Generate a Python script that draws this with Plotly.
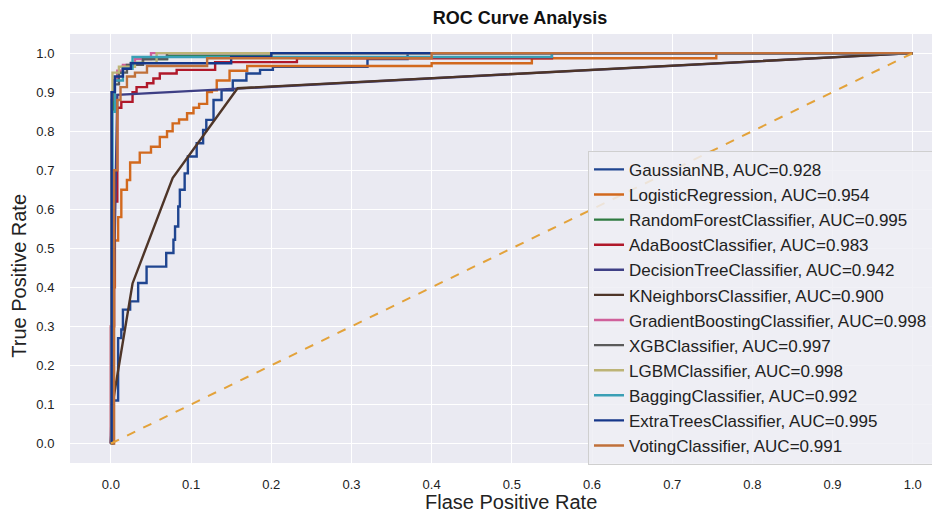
import plotly.graph_objects as go

names = ["GaussianNB", "LogisticRegression", "RandomForestClassifier", "AdaBoostClassifier",
         "DecisionTreeClassifier", "KNeighborsClassifier", "GradientBoostingClassifier",
         "XGBClassifier", "LGBMClassifier", "BaggingClassifier", "ExtraTreesClassifier",
         "VotingClassifier"]
aucs = [0.928, 0.954, 0.995, 0.983, 0.942, 0.900, 0.998, 0.997, 0.998, 0.992, 0.995, 0.991]
colors = ["#1f4590", "#d2691e", "#2e7a40", "#b0182a", "#3e3f85", "#4e3528",
          "#d0609a", "#5a5a5a", "#bdb476", "#3a9fb5", "#16378a", "#c0703a"]

# ROC points (fpr, tpr)
fpr_gnb = [0, 0.003, 0.009, 0.013, 0.015, 0.024, 0.034, 0.0445, 0.069, 0.078, 0.08, 0.084, 0.086,
           0.092, 0.096, 0.107, 0.115, 0.119, 0.128, 0.138, 0.152, 0.169, 0.186, 0.202, 0.32, 0.37, 1.0]
tpr_gnb = [0, 0.11, 0.27, 0.292, 0.343, 0.364, 0.411, 0.453, 0.488, 0.522, 0.556, 0.607, 0.65,
           0.692, 0.735, 0.769, 0.803, 0.829, 0.88, 0.905, 0.93, 0.948, 0.957, 0.965, 0.985, 1.0, 1.0]

fpr_lr = [0, 0.002, 0.005, 0.009, 0.013, 0.02, 0.024, 0.036, 0.05, 0.061, 0.07, 0.077, 0.085,
          0.095, 0.103, 0.11, 0.12, 0.126, 0.132, 0.148, 0.17, 0.40, 0.525, 0.755, 1.0]
tpr_lr = [0, 0.40, 0.52, 0.58, 0.65, 0.675, 0.72, 0.745, 0.76, 0.785, 0.80, 0.82, 0.83,
          0.846, 0.86, 0.87, 0.90, 0.905, 0.93, 0.955, 0.967, 0.974, 0.987, 1.0, 1.0]

fpr_rf = [0, 0.001, 0.003, 0.008, 0.015, 0.025, 0.04, 0.07, 0.2, 1.0]
tpr_rf = [0, 0.85, 0.93, 0.95, 0.965, 0.975, 0.985, 0.993, 1.0, 1.0]

fpr_ada = [0, 0, 0.004, 0.008, 0.013, 0.027, 0.032, 0.045, 0.053, 0.061, 0.082, 0.13, 0.232, 0.55, 1.0]
tpr_ada = [0, 0.3, 0.62, 0.86, 0.875, 0.9, 0.913, 0.923, 0.935, 0.948, 0.957, 0.977, 0.987, 1.0, 1.0]

fpr_dt = [0, 0.008, 1.0]
tpr_dt = [0, 0.893, 1.0]

fpr_knn = [0, 0.002, 0.027, 0.077, 0.158, 1.0]
tpr_knn = [0, 0.1, 0.41, 0.68, 0.91, 1.0]

fpr_gb = [0, 0.001, 0.003, 0.008, 0.015, 0.03, 0.05, 1.0]
tpr_gb = [0, 0.90, 0.93, 0.955, 0.97, 0.985, 1.0, 1.0]

fpr_xgb = [0, 0.001, 0.004, 0.01, 0.02, 0.04, 0.07, 1.0]
tpr_xgb = [0, 0.88, 0.92, 0.95, 0.97, 0.985, 1.0, 1.0]

fpr_lgbm = [0, 0.001, 0.002, 0.01, 0.03, 0.057, 1.0]
tpr_lgbm = [0, 0.90, 0.95, 0.965, 0.975, 1.0, 1.0]

fpr_bag = [0, 0.002, 0.005, 0.015, 0.027, 0.55, 1.0]
tpr_bag = [0, 0.85, 0.93, 0.96, 0.99, 1.0, 1.0]

fpr_et = [0, 0.001, 0.005, 0.015, 0.025, 0.15, 0.2, 1.0]
tpr_et = [0, 0.90, 0.94, 0.96, 0.974, 0.99, 1.0, 1.0]

fpr_vote = [0, 0.004, 0.008, 0.012, 0.02, 0.03, 0.045, 0.12, 0.40, 1.0]
tpr_vote = [0, 0.70, 0.88, 0.913, 0.94, 0.95, 0.967, 0.987, 1.0, 1.0]

fprs = [fpr_gnb, fpr_lr, fpr_rf, fpr_ada, fpr_dt, fpr_knn, fpr_gb, fpr_xgb, fpr_lgbm, fpr_bag, fpr_et, fpr_vote]
tprs = [tpr_gnb, tpr_lr, tpr_rf, tpr_ada, tpr_dt, tpr_knn, tpr_gb, tpr_xgb, tpr_lgbm, tpr_bag, tpr_et, tpr_vote]
shapes = ["hv", "hv", "hv", "hv", "linear", "linear", "hv", "hv", "hv", "hv", "hv", "hv"]

ticks = [0.0, 0.1, 0.2, 0.3, 0.4, 0.5, 0.6, 0.7, 0.8, 0.9, 1.0]
tick_text = ["0.0", "0.1", "0.2", "0.3", "0.4", "0.5", "0.6", "0.7", "0.8", "0.9", "1.0"]

FONT = "Liberation Sans, Arial, sans-serif"
OFF = 8  # page body margin offset
W, H = 940 - OFF, 517 - OFF
ML, MR, MT, MB = 70 - OFF, 0, 34 - OFF, 53.5
PW, PH = W - ML - MR, H - MB - MT


def px(sx):
    return (sx - OFF - ML) / PW


def py(sy):
    return (H - MB - (sy - OFF)) / PH


fig = go.Figure()
for n, a, c, fx, ty, sh in zip(names, aucs, colors, fprs, tprs, shapes):
    fig.add_trace(go.Scatter(x=fx, y=ty, mode="lines", name=f"{n}, AUC={a:.3f}",
                             line=dict(color=c, width=2.4, shape=sh)))

fig.add_trace(go.Scatter(x=[0, 1], y=[0, 1], mode="lines", showlegend=False,
                         line=dict(color="#e3a23a", width=2, dash="dash")))

fig.update_layout(
    width=W, height=H,
    margin=dict(l=ML, r=MR, t=MT, b=MB, autoexpand=False),
    paper_bgcolor="white", plot_bgcolor="#EAEAF2",
    font=dict(family=FONT, color="#222222"),
    title=dict(text="<b>ROC Curve Analysis</b>", x=(520 - OFF) / W, xref="container", xanchor="center",
               y=1 - (18 - OFF) / H, yref="container", yanchor="middle",
               font=dict(size=18, family=FONT, color="#111111")),
    xaxis=dict(range=[-0.051, 1.034], tickvals=ticks, ticktext=tick_text, showgrid=True,
               gridcolor="white", gridwidth=1, zeroline=False, showline=False, automargin=False,
               ticks="outside", ticklen=9, tickcolor="rgba(0,0,0,0)",
               tickfont=dict(size=13, color="#222222")),
    yaxis=dict(range=[-0.05, 1.049], tickvals=ticks, ticktext=tick_text, showgrid=True,
               gridcolor="white", gridwidth=1, zeroline=False, showline=False, automargin=False,
               ticks="outside", ticklen=12, tickcolor="rgba(0,0,0,0)",
               tickfont=dict(size=13, color="#222222")),
    legend=dict(x=px(588), y=py(151), xanchor="left", yanchor="top",
                bgcolor="rgba(238,238,245,0.85)", bordercolor="#cfcfcf", borderwidth=1,
                font=dict(size=17, family=FONT, color="#222222"), tracegroupgap=0),
    annotations=[
        dict(text="Flase Positive Rate", xref="paper", yref="paper",
             x=px(511), y=py(503), xanchor="center", yanchor="middle", showarrow=False,
             font=dict(size=20, family=FONT, color="#222222")),
        dict(text="True Positive Rate", xref="paper", yref="paper", textangle=-90,
             x=px(19), y=py(276), xanchor="center", yanchor="middle", showarrow=False,
             font=dict(size=20, family=FONT, color="#222222")),
    ],
)

fig.write_html("out.html")
